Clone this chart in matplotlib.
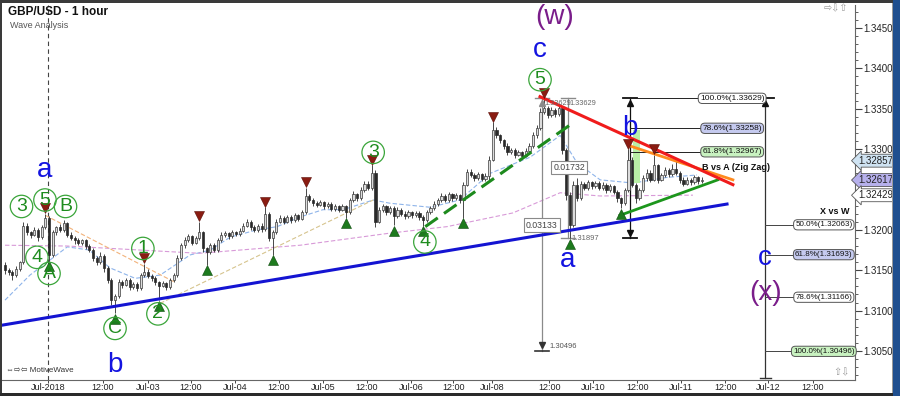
import matplotlib
matplotlib.use('Agg')
import matplotlib.pyplot as plt
from matplotlib.transforms import offset_copy
from matplotlib.patches import Rectangle

plt.rcParams['font.family'] = ['Liberation Sans', 'DejaVu Sans']

# ---------------- data ----------------
first_open = 1.3156
closes = [
    1.3150, 1.3148, 1.3144, 1.3152, 1.3160, 1.3205, 1.3197, 1.3194, 1.3200, 1.3191,
    1.3203, 1.3215, 1.3169, 1.3197, 1.3203, 1.3200, 1.3208, 1.3194, 1.3190, 1.3187,
    1.3184, 1.3187, 1.3180, 1.3175, 1.3165, 1.3160, 1.3168, 1.3153, 1.3138, 1.3113,
    1.3118, 1.3135, 1.3132, 1.3138, 1.3129, 1.3133, 1.3128, 1.3144, 1.3148, 1.3143,
    1.3141, 1.3135, 1.3131, 1.3134, 1.3129, 1.3138, 1.3144, 1.3165, 1.3181, 1.3187,
    1.3192, 1.3184, 1.3190, 1.3197, 1.3177, 1.3172, 1.3181, 1.3175, 1.3187, 1.3194,
    1.3196, 1.3192, 1.3197, 1.3195, 1.3199, 1.3205, 1.3210, 1.3203, 1.3200, 1.3205,
    1.3201, 1.3220, 1.3190, 1.3197, 1.3210, 1.3215, 1.3210, 1.3216, 1.3212, 1.3218,
    1.3214, 1.3222, 1.3242, 1.3237, 1.3233, 1.3231, 1.3234, 1.3229, 1.3232, 1.3226,
    1.3229, 1.3225, 1.3229, 1.3222, 1.3237, 1.3244, 1.3239, 1.3249, 1.3257, 1.3252,
    1.3271, 1.3210, 1.3225, 1.3229, 1.3222, 1.3227, 1.3217, 1.3225, 1.3220, 1.3217,
    1.3222, 1.3218, 1.3221, 1.3216, 1.3212, 1.3222, 1.3227, 1.3232, 1.3237, 1.3242,
    1.3237, 1.3244, 1.3239, 1.3243, 1.3237, 1.3256, 1.3272, 1.3268, 1.3264, 1.3269,
    1.3263, 1.3267, 1.3287, 1.3324, 1.3317, 1.3311, 1.3304, 1.3296, 1.3299, 1.3293,
    1.3296, 1.3292, 1.3298, 1.3304, 1.3317, 1.3326, 1.3346, 1.3351, 1.3342, 1.3348,
    1.3343, 1.3351, 1.3299, 1.3243, 1.3206, 1.3256, 1.3239, 1.3257, 1.3252, 1.3259,
    1.3254, 1.3258, 1.3252, 1.3256, 1.3249, 1.3254, 1.3247, 1.3239, 1.3233, 1.3249,
    1.3287, 1.3256, 1.3239, 1.3249, 1.3264, 1.3271, 1.3262, 1.3280, 1.3262, 1.3268,
    1.3274, 1.3269, 1.3276, 1.3271, 1.3262, 1.3257, 1.3262, 1.3259, 1.3265, 1.3260,
    1.3262]
# wick lengths in pips above the body / below the body
up_wick = [
    4, 3, 2, 3, 2, 5, 3, 2, 3, 2,   3, 5, 2, 3, 2, 4, 4, 2, 3, 2,
    3, 2, 2, 3, 2, 3, 4, 2, 2, 3,   3, 4, 3, 3, 2, 3, 2, 3, 10, 3,
    2, 2, 2, 3, 2, 3, 3, 4, 3, 4,   3, 2, 3, 13, 2, 2, 3, 3, 3, 4,
    3, 2, 3, 2, 3, 4, 3, 2, 3, 2,   3, 8, 2, 3, 3, 3, 2, 3, 2, 3,
    2, 3, 10, 3, 2, 3, 3, 2, 3, 2,  3, 2, 3, 2, 3, 4, 2, 4, 4, 3,
    9, 3, 3, 3, 2, 3, 2, 3, 2, 3,   3, 2, 3, 2, 2, 3, 3, 4, 3, 4,
    2, 3, 2, 3, 2, 3, 4, 3, 2, 3,   2, 3, 4, 9, 3, 2, 2, 3, 3, 2,
    3, 2, 3, 3, 4, 4, 5, 12, 3, 4,  3, 4, 3, 3, 4, 5, 8, 3, 2, 3,
    2, 3, 2, 3, 2, 3, 2, 2, 2, 3,   13, 3, 2, 3, 4, 4, 3, 13, 2, 3,
    4, 3, 5, 11, 2, 3, 3, 2, 3, 2,  3]
dn_wick = [
    5, 4, 6, 2, 3, 2, 3, 4, 2, 5,   2, 2, 7, 2, 3, 3, 2, 3, 2, 4,
    3, 3, 4, 3, 4, 4, 2, 5, 4, 6,   16, 2, 4, 2, 3, 2, 4, 2, 2, 3,
    4, 3, 18, 2, 4, 2, 2, 2, 2, 3,  2, 3, 2, 2, 4, 15, 2, 3, 2, 2,
    3, 3, 2, 3, 2, 2, 2, 3, 3, 3,   3, 2, 4, 21, 2, 2, 3, 2, 3, 2,
    3, 2, 2, 3, 3, 3, 2, 3, 2, 3,   2, 3, 2, 7, 2, 2, 3, 2, 2, 3,
    2, 6, 2, 3, 3, 2, 11, 2, 3, 3,  2, 3, 2, 4, 7, 2, 2, 2, 2, 2,
    3, 2, 3, 2, 4, 22, 2, 3, 3, 2,  3, 2, 5, 2, 3, 3, 4, 3, 2, 4,
    2, 3, 2, 2, 2, 3, 2, 3, 3, 2,   3, 2, 5, 6, 16, 3, 3, 2, 3, 2,
    3, 2, 3, 2, 3, 2, 3, 4, 6, 2,   2, 3, 6, 2, 2, 3, 3, 2, 4, 2,
    2, 3, 2, 3, 4, 3, 2, 3, 2, 3,   2]

# x axis ticks (bar positions) and labels
x_tick_pos = [11.8, 26.7, 39.0, 50.7, 62.7, 74.7, 86.7, 98.7, 110.7, 122.2,
              132.8, 148.4, 160.4, 172.4, 184.4, 196.4, 208.1, 220.3]
x_tick_labels = ['Jul-2018', '12:00', 'Jul-03', '12:00', 'Jul-04', '12:00', 'Jul-05',
                 '12:00', 'Jul-06', '12:00', 'Jul-08', '12:00', 'Jul-10', '12:00',
                 'Jul-11', '12:00', 'Jul-12', '12:00']
y_ticks = [1.345, 1.340, 1.335, 1.330, 1.325, 1.320, 1.315, 1.310, 1.305]
y_tick_labels = ['1.34500', '1.34000', '1.33500', '1.33000', '', '1.32000', '1.31500',
                 '1.31000', '1.30500']

# moving averages (dashed)
blue_ma_x = [0, 6.8, 11.5, 17, 23, 28.6, 35.5, 42.3, 50.5, 56, 61.4, 68.7, 74.2, 80.5,
             86.7, 92.2, 100.4, 105, 116, 124, 132.3, 143.2, 151.4, 156, 162.3, 171.3,
             180.5, 188.7]
blue_ma_y = [1.3113, 1.3144, 1.3160, 1.3179, 1.3175, 1.3153, 1.3140, 1.3144, 1.3169,
             1.3175, 1.3191, 1.3200, 1.3204, 1.3216, 1.3225, 1.3225, 1.3237, 1.3233,
             1.3228, 1.3237, 1.3270, 1.3290, 1.3317, 1.3283, 1.3262, 1.3258, 1.3265,
             1.3268]
pink_ma_x = [0, 17, 53, 80.5, 105, 120.5, 138.5, 151.4, 162.3, 187.6]
pink_ma_y = [1.3181, 1.3180, 1.3171, 1.3181, 1.3196, 1.3204, 1.3221, 1.3246, 1.3242, 1.3243]
tan_line_x = [42.3, 100.4]
tan_line_y = [1.3109, 1.3237]
orange_dash_x = [11, 46.4]
orange_dash_y = [1.3218, 1.3135]

# drawn trend lines
blue_trend_x = [-0.8, 196.9]
blue_trend_y = [1.3082, 1.3232]
green_dash_x = [114.6, 154.1]
green_dash_y = [1.3204, 1.3330]
red_trend_x = [145.9, 198.5]
red_trend_y = [1.3365, 1.3256]
orange_trend_x = [170.4, 198.5]
orange_trend_y = [1.3304, 1.3262]
green_trend_x = [167.7, 194.4]
green_trend_y = [1.3218, 1.3262]

# swing markers (bar indices)
high_marks = [11, 38, 53, 71, 82, 100, 133, 147, 170, 177]
low_marks = [12, 30, 42, 55, 73, 93, 106, 114, 125, 154, 168]

# circled wave labels (bar, price, text)
circ_labels = [(4.5, 1.3229, '3'), (10.9, 1.3237, '5'), (16.5, 1.3229, 'B'),
               (8.7, 1.3166, '4'), (12.0, 1.3146, 'A'), (30.0, 1.3078, 'C'),
               (37.6, 1.3177, '1'), (41.7, 1.3096, '2'), (100.4, 1.3296, '3'),
               (114.5, 1.3185, '4'), (145.9, 1.3386, '5')]
blue_labels = [(10.9, 1.3274, 'a'), (30.0, 1.3033, 'b'), (145.9, 1.3423, 'c'),
               (153.3, 1.3163, 'a'), (170.4, 1.3326, 'b'), (207.3, 1.3165, 'c')]
purple_labels = [(150.0, 1.3464, '(w)'), (207.3, 1.3122, '(x)')]

# fibonacci tools
fib_a_levels = [1.33629, 1.33258, 1.32967]
fib_a_labels = ['100.0%(1.33629)', '78.6%(1.33258)', '61.8%(1.32967)']
fib_a_colors = ['white', '#c5caef', '#c8f2c0']
fib_b_levels = [1.32063, 1.31693, 1.31166, 1.30496]
fib_b_labels = ['50.0%(1.32063)', '61.8%(1.31693)', '78.6%(1.31166)', '100.0%(1.30496)']
fib_b_colors = ['white', '#c5caef', 'white', '#c8f2c0']

# current-price boxes on the right axis
price_box_values = [1.32857, 1.32617, 1.32429]
price_box_colors = ['#cfe3f2', '#b6b0ec', 'white']

PIP = 0.0001

# ---------------- figure ----------------
fig = plt.figure(figsize=(9, 3.96), dpi=100)
ax = fig.add_axes([2 / 900, 16 / 396, 853 / 900, 375 / 396])
ax.set_xlim(-0.82, 231.8)
ax.set_ylim(1.30141, 1.34785)

opens = [first_open] + closes[:-1]
for i, (o, c, u, d) in enumerate(zip(opens, closes, up_wick, dn_wick)):
    hi = max(o, c) + u * PIP
    lo = min(o, c) - d * PIP
    ax.vlines(i, lo, hi, color='#2a2a2a', lw=0.6, zorder=3)
    h = max(abs(c - o), 0.00008)
    if c >= o:
        ax.bar(i, h, bottom=min(o, c), width=0.62, color='#dcdcdc', edgecolor='#3a3a3a',
               lw=0.5, zorder=3.2)
    else:
        ax.bar(i, h, bottom=min(o, c), width=0.62, color='#2a2a2a', edgecolor='#2a2a2a',
               lw=0.5, zorder=3.2)

highs = [max(o, c) + u * PIP for o, c, u in zip(opens, closes, up_wick)]
lows = [min(o, c) - d * PIP for o, c, d in zip(opens, closes, dn_wick)]

# moving averages
ax.plot(blue_ma_x, blue_ma_y, color='#8eb4ea', lw=0.8, ls=(0, (4, 2)), zorder=2)
ax.plot(pink_ma_x, pink_ma_y, color='#d89ad8', lw=0.8, ls=(0, (4, 2)), zorder=2)
ax.plot(tan_line_x, tan_line_y, color='#d6c48e', lw=0.8, ls=(0, (4, 2)), zorder=2)
ax.plot(orange_dash_x, orange_dash_y, color='#f2b27a', lw=0.8, ls=(0, (4, 2)), zorder=2)

# shaded rectangle near b
ax.add_patch(Rectangle((171.3, 1.3258), 1.9, 0.0066, fc='#b9efa6', ec='none', zorder=2.5))

# vertical dashed line
ax.axvline(11.8, color='#444444', lw=0.8, ls=(0, (4, 3)), zorder=1)

# measurement tools
gray = '#8a8a8a'
ax.plot([146.4, 146.4], [1.33629, 1.30496], color=gray, lw=0.9, zorder=2.8)
ax.plot([144.4, 148.4], [1.30496, 1.30496], color='#333333', lw=1.2, zorder=2.8)
ax.plot([144.4, 148.4], [1.33629, 1.33629], color=gray, lw=1.0, zorder=2.8)
ax.plot([146.4], [1.3057], marker='v', color='#333333', ms=4, zorder=3)
ax.plot([146.4], [1.3357], marker='^', color=gray, ms=4, zorder=3)
ax.plot([153.5, 153.5], [1.33629, 1.31897], color=gray, lw=0.9, zorder=2.8)
ax.plot([151.5, 155.5], [1.33629, 1.33629], color=gray, lw=1.0, zorder=2.8)
ax.plot([151.5, 155.5], [1.31897, 1.31897], color=gray, lw=1.0, zorder=2.8)
ax.text(148.6, 1.3056, '1.30496', fontsize=5.5, color='#555555', ha='left', va='center')
ax.text(147.2, 1.3357, '1.33629', fontsize=5.3, color='#666666', ha='left', va='center', zorder=5)
ax.text(153.9, 1.3357, '1.33629', fontsize=5.3, color='#666666', ha='left', va='center', zorder=5)
ax.text(154.6, 1.3189, '1.31897', fontsize=5.5, color='#666666', ha='left', va='center', zorder=2)
box = dict(boxstyle='square,pad=0.25', fc='white', ec='#8a8a8a', lw=0.8)
ax.text(146.4, 1.3206, '0.03133', fontsize=6.3, color='#444444', ha='center', va='center',
        bbox=box, zorder=5)
ax.text(153.9, 1.3277, '0.01732', fontsize=6.3, color='#444444', ha='center', va='center',
        bbox=box, zorder=5)

# black measure at b
ax.plot([170.4, 170.4], [1.33629, 1.3190], color='#111111', lw=0.9, zorder=2.8)
ax.plot([168.4, 172.4], [1.33629, 1.33629], color='#111111', lw=1.3, zorder=2.8)
ax.plot([168.4, 172.4], [1.3190, 1.3190], color='#111111', lw=1.3, zorder=2.8)
ax.plot([170.4], [1.3357], marker='^', color='#111111', ms=4.5, zorder=3)
ax.plot([170.4], [1.3196], marker='v', color='#111111', ms=4.5, zorder=3)
for lvl in fib_a_levels:
    ax.plot([170.4, 190], [lvl, lvl], color='#222222', lw=0.7, zorder=2.8)
ax.plot([190, 207.3], [1.33629, 1.33629], color='#222222', lw=0.7, zorder=2.8)
for lvl, lab, col in zip(fib_a_levels, fib_a_labels, fib_a_colors):
    ax.text(198.3, lvl, lab, fontsize=6, color='#111111', ha='center', va='center', zorder=6,
            bbox=dict(boxstyle='round,pad=0.2,rounding_size=0.5', fc=col, ec='#555555', lw=0.7))
ax.text(208.6, 1.3277, 'B vs A (Zig Zag)', fontsize=6.5, fontweight='bold', color='#111111',
        ha='right', va='center', zorder=6)

# X vs W tool
ax.plot([207.3, 207.3], [1.33629, 1.3017], color='#333333', lw=0.9, zorder=2.8)
ax.plot([204.6, 209.6], [1.33629, 1.33629], color='#111111', lw=1.3, zorder=2.8)
ax.plot([205.8, 208.8], [1.3017, 1.3017], color='#333333', lw=1.0, zorder=2.8)
ax.plot([207.3], [1.3357], marker='^', color='#111111', ms=4.5, zorder=3)
for lvl in fib_b_levels:
    ax.plot([207.3, 216], [lvl, lvl], color='#444444', lw=0.7, zorder=2.8)
for lvl, lab, col in zip(fib_b_levels, fib_b_labels, fib_b_colors):
    ax.text(223.3, lvl, lab, fontsize=5.8, color='#111111', ha='center', va='center', zorder=6,
            bbox=dict(boxstyle='round,pad=0.2,rounding_size=0.5', fc=col, ec='#555555', lw=0.7))
ax.text(226.3, 1.3223, 'X vs W', fontsize=6.5, fontweight='bold', color='#111111',
        ha='center', va='center', zorder=6)

# trend lines
ax.plot(blue_trend_x, blue_trend_y, color='#1414d2', lw=2.2, zorder=4)
ax.plot(green_dash_x, green_dash_y, color='#1d8a1d', lw=2.2, ls=(0, (5, 2.5)), zorder=4)
ax.plot(red_trend_x, red_trend_y, color='#f01c1c', lw=2.2, zorder=4.2)
ax.plot(orange_trend_x, orange_trend_y, color='#ff8a1e', lw=2.0, zorder=4.1)
ax.plot(green_trend_x, green_trend_y, color='#1c961c', lw=2.0, zorder=4)

# swing markers
up_tr = offset_copy(ax.transData, fig=fig, x=0, y=4, units='points')
dn_tr = offset_copy(ax.transData, fig=fig, x=0, y=-4, units='points')
ax.plot(high_marks, [highs[i] for i in high_marks], ls='none', marker='v', ms=6.5,
        color='#8a1c12', markeredgecolor='#5a0e08', mew=0.4, transform=up_tr, zorder=5)
ax.plot(low_marks, [lows[i] for i in low_marks], ls='none', marker='^', ms=6.5,
        color='#1d7a1d', markeredgecolor='#0e4a0e', mew=0.4, transform=dn_tr, zorder=5)

# wave labels
for x, y, s in circ_labels:
    ax.text(x, y, s, fontsize=14, color='#1e8c1e', ha='center', va='center', zorder=7,
            bbox=dict(boxstyle='circle,pad=0.14', fc='none', ec='#3aa53a', lw=0.9))
for x, y, s in blue_labels:
    ax.text(x, y, s, fontsize=20, color='#1414e0', ha='center', va='center', zorder=7)
for x, y, s in purple_labels:
    ax.text(x, y, s, fontsize=20, color='#7a1d8a', ha='center', va='center', zorder=7)

# axes styling
for side in ['top', 'left']:
    ax.spines[side].set_visible(False)
ax.spines['bottom'].set_color('#666666')
ax.spines['right'].set_color('#666666')
ax.yaxis.tick_right()
ax.set_yticks(y_ticks)
ax.set_yticklabels(y_tick_labels)
ax.set_yticks([v / 1000 for v in range(1302, 1348)], minor=True)
ax.tick_params(axis='y', which='major', length=5, width=0.8, labelsize=7,
               labelcolor='#222222', color='#444444', pad=1)
ax.tick_params(axis='y', which='minor', length=2.5, width=0.6, color='#444444')
ax.set_xticks(x_tick_pos)
ax.set_xticklabels(x_tick_labels)
ax.tick_params(axis='x', length=2, width=0.7, labelsize=6.5, labelcolor='#222222',
               color='#444444', pad=0.5)

# right-axis price boxes
for p, col in zip(price_box_values, price_box_colors):
    ax.text(1.004, p, f'{p:.5f}', transform=ax.get_yaxis_transform(), fontsize=7,
            color='#222222', ha='left', va='center', zorder=8, clip_on=False,
            bbox=dict(boxstyle='larrow,pad=0.15', fc=col, ec='#555555', lw=0.6))

# figure texts
fig.text(8 / 900, 1 - 12 / 396, 'GBP/USD - 1 hour', fontsize=8.5, fontweight='bold',
         color='#111111', ha='left', va='center')
fig.text(10 / 900, 1 - 25 / 396, 'Wave Analysis', fontsize=6.5, color='#555555',
         ha='left', va='center')
fig.text(6 / 900, 1 - 371 / 396, '⇔⇨⇦ MotiveWave', fontsize=5.8, color='#333333',
         ha='left', va='center')
fig.text(848 / 900, 1 - 8 / 396, '⇨⇩⇧', fontsize=7, color='#999999', ha='right', va='center')
fig.text(850 / 900, 1 - 372 / 396, '⇧⇩', fontsize=7, color='#999999', ha='right', va='center')

# outer frame
fig.add_artist(Rectangle((0, 1 - 3 / 396), 1, 3 / 396, transform=fig.transFigure,
                         fc='#3a3a3a', ec='none'))
fig.add_artist(Rectangle((0, 0), 2 / 900, 1, transform=fig.transFigure, fc='#3a3a3a', ec='none'))
fig.add_artist(Rectangle((0, 0), 1, 3 / 396, transform=fig.transFigure, fc='#2a2a2a', ec='none'))
fig.add_artist(Rectangle((893 / 900, 0), 7 / 900, 1, transform=fig.transFigure,
                         fc='#1f4f8f', ec='none'))
fig.add_artist(Rectangle((892 / 900, 3 / 396), 1 / 900, 390 / 396, transform=fig.transFigure,
                         fc='#999999', ec='none'))

fig.savefig('out.png', dpi=100)
